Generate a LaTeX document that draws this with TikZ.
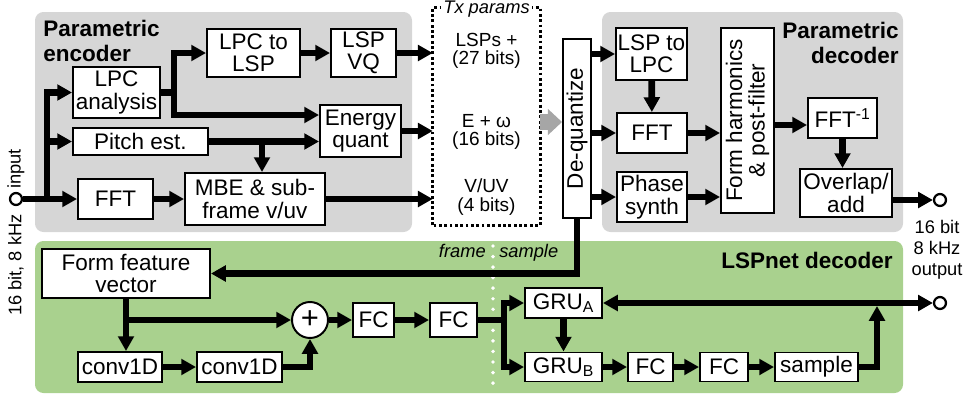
\documentclass[tikz,border=0pt]{standalone}
\usepackage{fontspec}
\setmainfont{Liberation Sans}
\usepackage{tikz}
\usetikzlibrary{arrows.meta, positioning, calc}
\usepackage{xcolor}

\definecolor{panelgray}{RGB}{214,214,214}
\definecolor{panelgreen}{RGB}{169,209,142}
\definecolor{arrowgray}{RGB}{166,166,166}

\tikzset{
  blk/.style={draw, fill=white, line width=1.4pt, inner sep=1pt, align=center,
    font=\fontsize{16}{16}\selectfont},
  wh/.style 2 args={minimum width=#1*0.025cm, minimum height=#2*0.025cm},
  conn/.style={line width=4.8pt, -{Triangle[length=10.5pt, width=11pt]}},
  bus/.style={line width=4.8pt},
  ttl/.style={font=\fontsize{16}{17.5}\selectfont\bfseries, inner sep=0pt},
  iolab/.style={font=\fontsize{13}{15}\selectfont, inner sep=0pt},
  note/.style={font=\fontsize{13}{13}\selectfont\itshape},
  txt/.style={align=center, font=\fontsize{13.5}{13}\selectfont},
  port/.style={circle, draw, fill=white, line width=1.6pt, inner sep=0pt, minimum size=8.5pt},
}

\begin{document}
\begin{tikzpicture}[x=0.025cm, y=-0.025cm]
  \useasboundingbox (0,0) rectangle (966,396);

  % panels
  \fill[panelgray, rounded corners=6pt] (35,12) rectangle (412,232);
  \fill[panelgray, rounded corners=6pt] (602,12) rectangle (903,232);
  \fill[panelgreen, rounded corners=6pt] (35,241) rectangle (903,393);
  \draw[white, line width=2.8pt, line cap=round, dash pattern=on 0pt off 7.5pt] (493,246) -- (493,393);

  \node[ttl, align=left, anchor=north west] (enct) at (43,20) {Parametric\\encoder};
  \node[ttl, align=right, anchor=north east] (dect) at (899,22) {Parametric\\decoder};
  \node[ttl, anchor=base east] (lspt) at (893,268) {LSPnet decoder};

  % encoder
  \node[blk, wh={87}{51}] (lpca) at (116.5,92.5) {LPC\\analysis};
  \node[blk, wh={93}{48}] (lpc2lsp) at (253.5,53) {LPC to\\LSP};
  \node[blk, wh={65}{48}] (lspvq) at (363.5,53) {LSP\\VQ};
  \node[blk, wh={81}{52}] (enq) at (360.5,131) {Energy\\quant};
  \node[blk, wh={135}{27}] (pitch) at (140.5,141.5) {Pitch est.};
  \node[blk, wh={75}{40}] (ffte) at (115.5,199) {FFT};
  \node[blk, wh={140}{52}] (mbe) at (255,199) {MBE \& sub-\\frame v/uv};

  % transmitted parameters
  \node[wh={107}{217}, inner sep=0pt] (tx) at (486.5,116.5) {};
  \draw[line width=2pt, dash pattern=on 2pt off 1.8pt] (tx.south west) rectangle (tx.north east);
  \node[note, fill=white, inner sep=1.5pt] (txttl) at (486.5,9) {Tx params};
  \node[txt] (txlsp) at (486.5,51) {LSPs +\\(27 bits)};
  \node[txt] (txen) at (486.5,132) {E + ω\\(16 bits)};
  \node[txt] (txvuv) at (486.5,197) {V/UV\\(4 bits)};

  % decoder
  \node[blk, rotate=90, wh={179}{28}] (dq) at (577,128.5) {De-quantize};
  \node[blk, wh={71}{52}] (lsp2lpc) at (651.5,54) {LSP to\\LPC};
  \node[blk, wh={70}{40}] (fftd) at (652,133) {FFT};
  \node[blk, wh={70}{50}] (phs) at (652,197) {Phase\\synth};
  \node[blk, rotate=90, wh={185}{53}] (form) at (747.5,120.5) {Form harmonics\\\& post-filter};
  \node[blk, wh={69}{40}] (ifft) at (842.5,118) {FFT\textsuperscript{-1}};
  \node[blk, wh={92}{48}] (ola) at (846,193) {Overlap/\\add};

  % LSPnet
  \node[blk, wh={168}{49}] (feat) at (126,273.5) {Form feature\\vector};
  \node[circle, draw, fill=white, line width=1.4pt, inner sep=0pt, minimum size=36*0.025cm,
    font=\fontsize{22}{22}\selectfont] (sum) at (310,320) {+};
  \node[blk, wh={41}{34}] (fc1) at (373.5,320) {FC};
  \node[blk, wh={47}{34}] (fc2) at (453.5,320) {FC};
  \node[blk, wh={84}{30}] (cv1) at (120,367) {conv1D};
  \node[blk, wh={85}{30}] (cv2) at (239.5,367) {conv1D};
  \node[blk, wh={77}{30}] (grua) at (563.5,303) {GRU\textsubscript{A}};
  \node[blk, wh={77}{29}] (grub) at (563.5,367) {GRU\textsubscript{B}};
  \node[blk, wh={45}{29}] (fc3) at (650.5,367) {FC};
  \node[blk, wh={48}{29}] (fc4) at (724,367) {FC};
  \node[blk, wh={83}{29}] (smp) at (816.5,367) {sample};

  \node[note, anchor=base east, inner sep=0pt] (frm) at (486,257) {frame};
  \node[note, anchor=base west, inner sep=0pt] (spl) at (499,257) {sample};

  % in / out
  \node[port] (in) at (16,199) {};
  \node[port] (outp) at (940,200) {};
  \node[port] (outq) at (940,303) {};
  \node[iolab, rotate=90, anchor=west] (inlab) at (16,189) {input};
  \node[iolab, rotate=90, anchor=east] (rate) at (16,214) {16 bit, 8 kHz};
  \node[iolab, align=center] (outlab) at (937,250) {16 bit\\8 kHz\\output};

  % connectors
  \coordinate (jin) at (47,199);
  \draw[bus] (in.east) -- (jin);
  \draw[conn] (jin) -- (ffte.west);
  \draw[conn] (jin) |- (lpca.west);
  \draw[conn] (jin) |- (pitch.west);
  \draw[conn] (lpca.east) -- ++(13,0) |- (lpc2lsp.west);
  \draw[conn] (lpca.east) -- ++(13,0) |- (enq.west |- 0,115);
  \draw[conn] (pitch.east) -- (pitch.east -| enq.west);
  \draw[conn] (pitch.east -| 262,0) -- (262,0 |- mbe.north);
  \foreach \n in {lspvq,enq,mbe}
    \draw[conn] (\n.east) -- (\n.east -| tx.west);
  \foreach \a/\b in {lpc2lsp/lspvq, ffte/mbe, lsp2lpc/fftd, cv1/cv2, sum/fc1, fc1/fc2,
    grua/grub, grub/fc3, fc3/fc4, fc4/smp}
    \draw[conn] (\a) -- (\b);

  \draw[arrowgray, line width=12pt, -{Triangle[length=10pt, width=18pt]}]
    (tx.east |- 0,122) -- (dq.north |- 0,122);

  \foreach \n in {lsp2lpc,fftd,phs}
    \draw[conn] (\n.west -| dq.south) -- (\n.west);
  \foreach \n in {fftd,phs}
    \draw[conn] (\n.east) -- (\n.east -| form.north);
  \draw[conn] (form.south |- 0,125) -- (ifft.west |- 0,125);
  \draw[conn] (ifft.south) -- (ifft.south |- ola.north);
  \draw[conn] (ola.east |- outp) -- (outp.west);

  \draw[conn] (dq.west) |- (feat.east);
  \draw[conn] (feat.south) -- (feat.south |- cv1.north);
  \draw[conn] (feat.south |- sum) -- (sum.west);
  \draw[conn] (cv2.east) -| (sum.south);
  \draw[conn] (fc2.east) -- ++(26,0) |- (grua.west);
  \draw[conn] (fc2.east) -- ++(26,0) |- (grub.west);
  \draw[conn] (smp.east) -| (0,306 -| 877,0);
  \draw[line width=4.8pt, {Triangle[length=10.5pt, width=11pt]}-{Triangle[length=10.5pt, width=11pt]}]
    (grua.east) -- (outq.west);
\end{tikzpicture}
\end{document}
